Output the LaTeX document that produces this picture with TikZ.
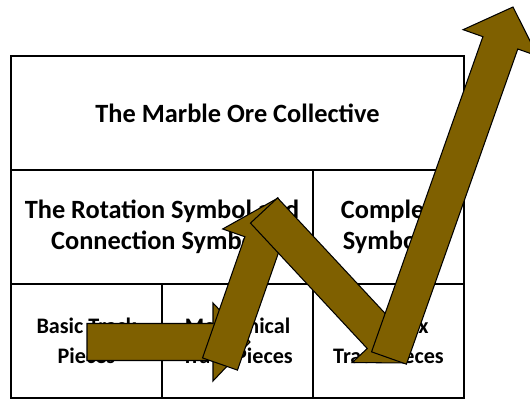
\documentclass[tikz,border=0pt]{standalone}
\usepackage{fontspec}
\setmainfont{Carlito}
\usepackage{tikz}
\usetikzlibrary{positioning,calc}
\definecolor{oreGold}{HTML}{7F6000}
\tikzset{
  cell/.style={draw, line width=0.8pt, minimum width=3.02cm, minimum height=2.28cm, align=center, inner sep=0pt, outer sep=0pt},
  bigtext/.style={font=\fontsize{15}{17.6}\selectfont\bfseries},
  smalltext/.style={font=\fontsize{12.6}{16.9}\selectfont\bfseries},
  growth/.style={fill=oreGold, draw=black, line width=0.6pt, line join=miter}
}
% start, tip, head length, head half width
\newcommand{\growtharrow}[4]{%
  \coordinate (#1-base) at ($(#2)!#3!(#1)$);
  \filldraw[growth] ($(#1)!0.37cm!90:(#2)$) -- ($(#1-base)!0.37cm!90:(#2)$) -- ($(#1-base)!#4!90:(#2)$) -- (#2)
    -- ($(#1-base)!#4!-90:(#2)$) -- ($(#1-base)!0.37cm!-90:(#2)$) -- ($(#1)!0.37cm!-90:(#2)$) -- cycle;
}

\begin{document}
\begin{tikzpicture}
\useasboundingbox (0,0) rectangle (10.6,-8);
\clip (0,0) rectangle (10.6,-8);
\node[cell, bigtext, minimum width=9.06cm] (title) at (4.75,-2.26) {The Marble Ore Collective};
\node[cell, bigtext, minimum width=6.04cm, below right=0pt of title.south west] (rotation) {The Rotation Symbol and\\Connection Symbols};
\node[cell, bigtext, right=0pt of rotation] (complexsym) {Complex\\Symbols};
\node[cell, smalltext, below right=0pt of rotation.south west] (basic) {Basic Track\\Pieces};
\node[cell, smalltext, right=0pt of basic] (mechanical) {Mechanical\\Track Pieces};
\node[cell, smalltext, right=0pt of mechanical] (complextrack) {Complex\\Track Pieces};
% the rising arrow
\coordinate (g1start) at (1.74,-6.84);
\coordinate (g1tip) at (5.00,-6.84);
\coordinate (g2start) at (4.40,-7.28);
\coordinate (g2tip) at (5.56,-3.96);
\coordinate (g3start) at (5.28,-4.21);
\coordinate (g3tip) at (8.12,-7.26);
\coordinate (g4start) at (7.78,-7.16);
\coordinate (g4tip) at (10.26,-0.14);
\growtharrow{g1start}{g1tip}{0.74cm}{0.78cm}
\growtharrow{g2start}{g2tip}{0.95cm}{0.84cm}
\growtharrow{g3start}{g3tip}{0.74cm}{0.78cm}
\growtharrow{g4start}{g4tip}{0.76cm}{0.79cm}
\end{tikzpicture}
\end{document}
